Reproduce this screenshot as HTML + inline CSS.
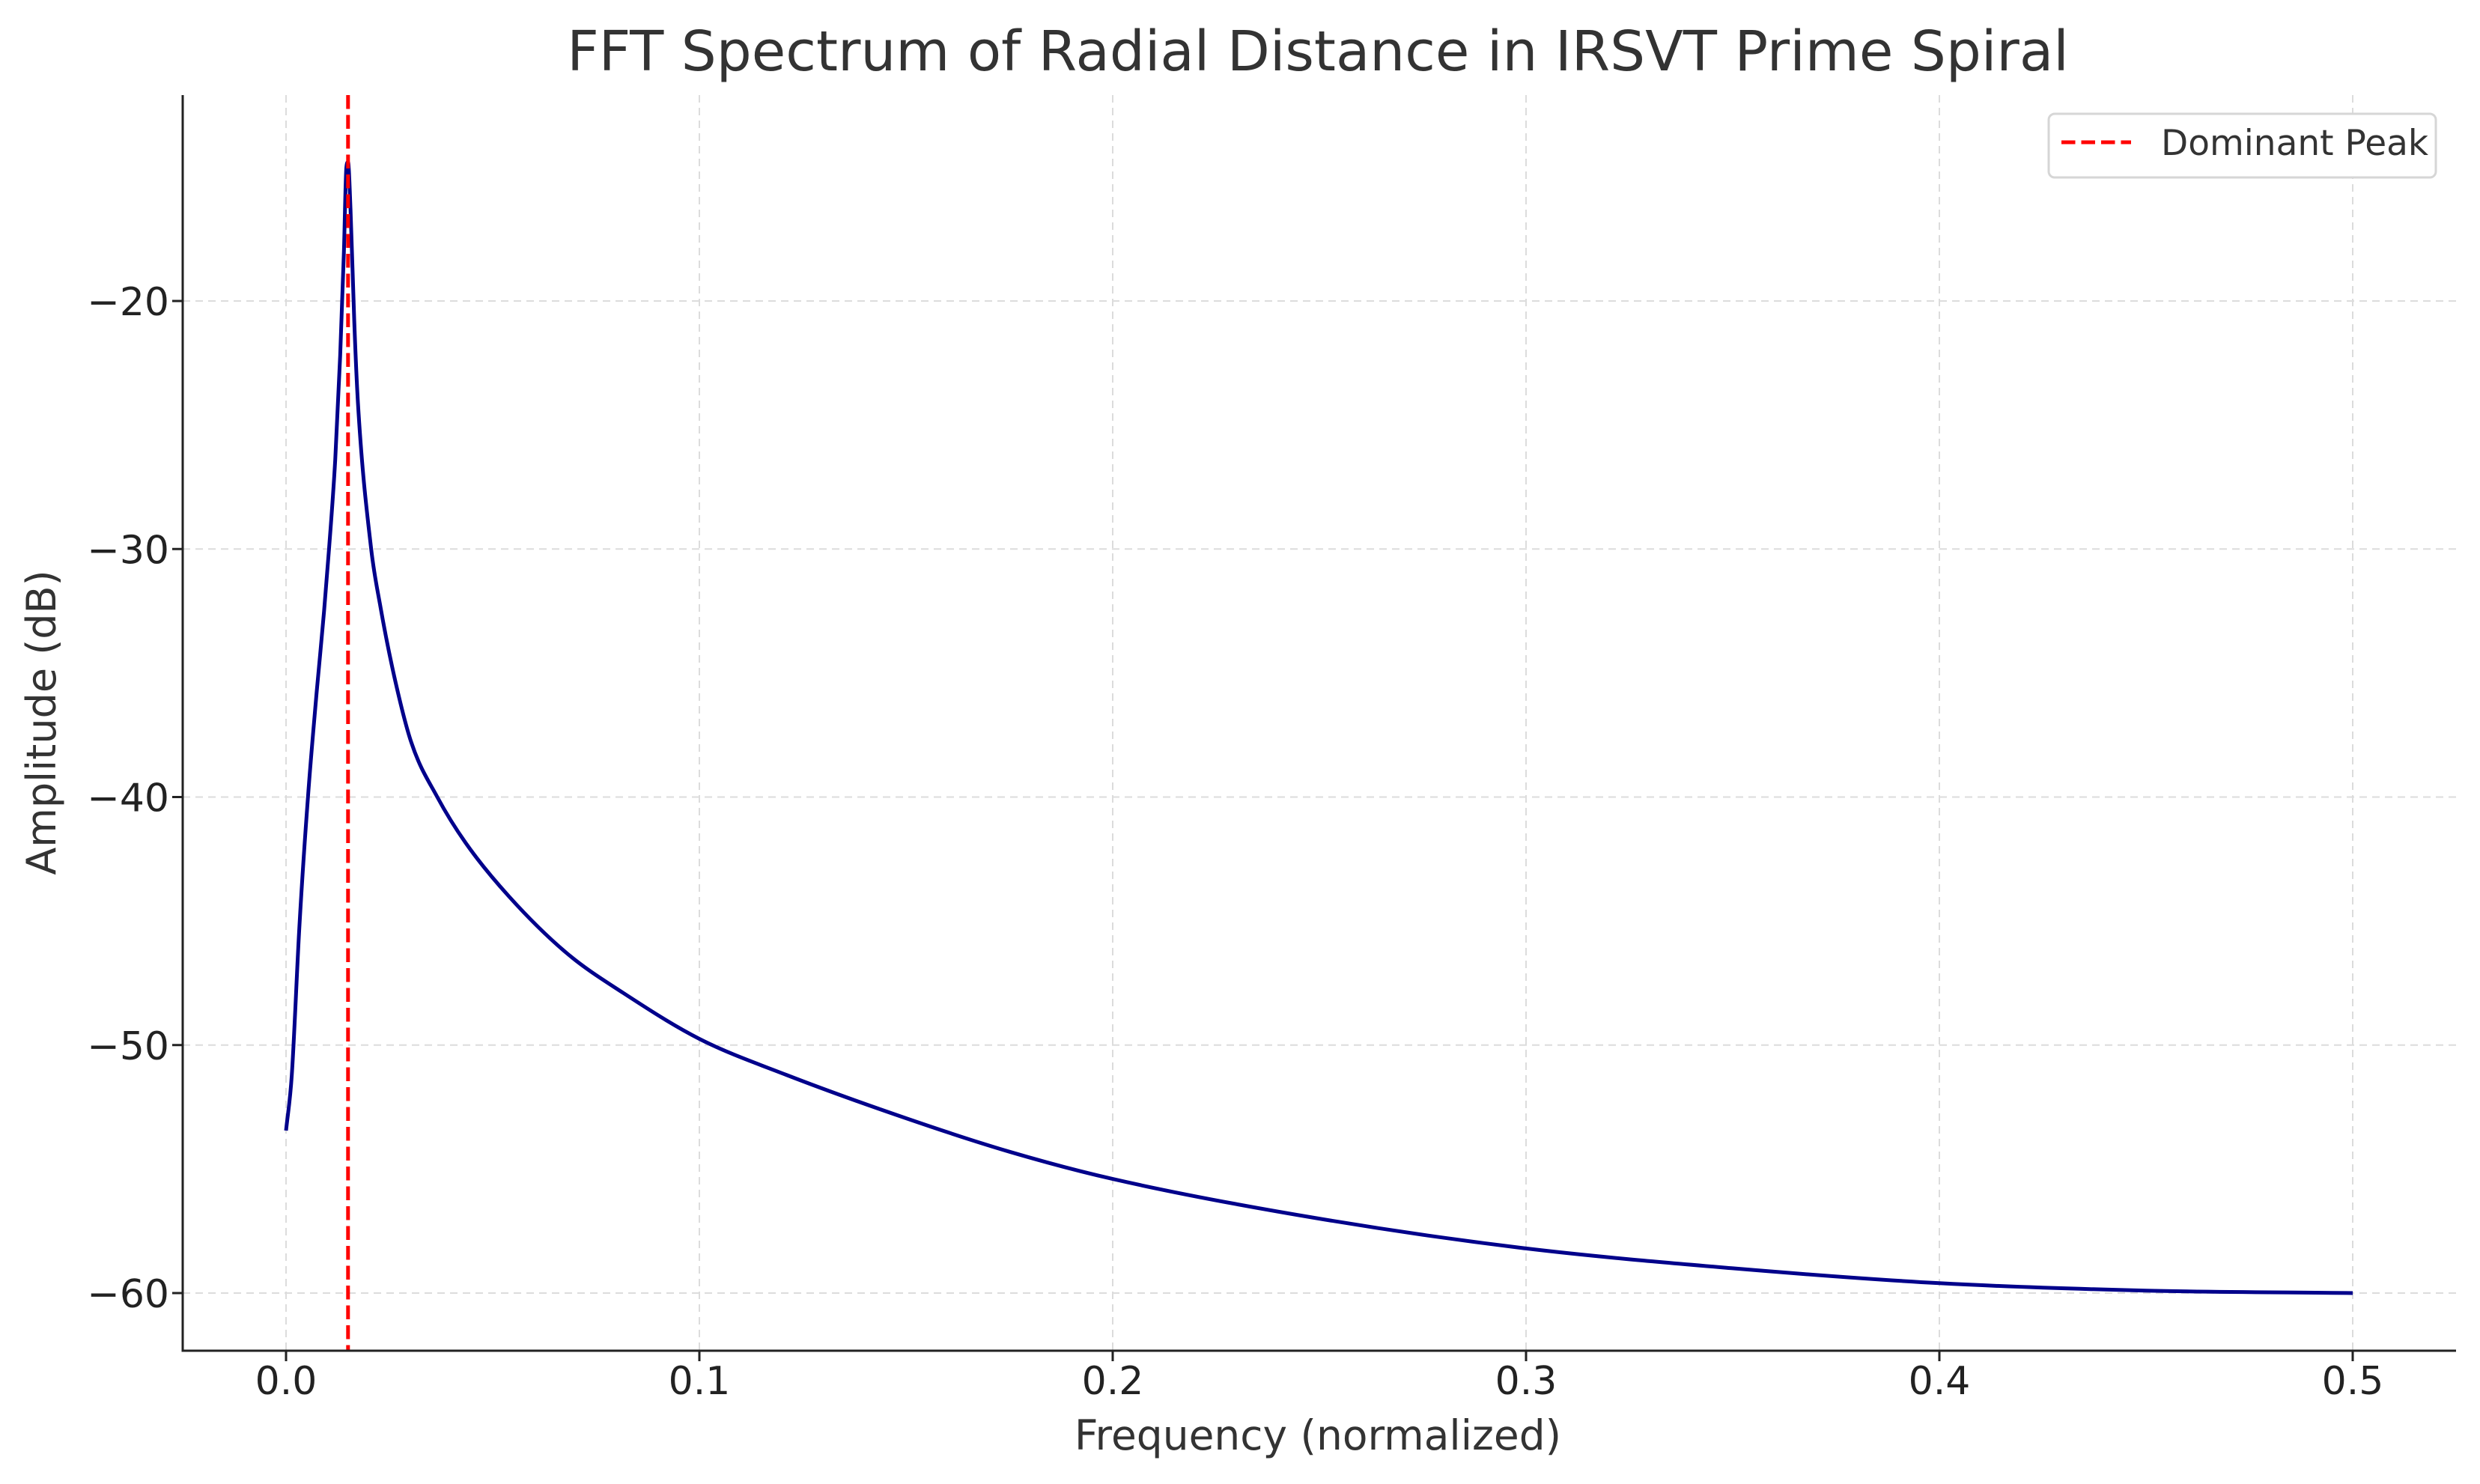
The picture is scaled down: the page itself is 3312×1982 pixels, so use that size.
<!DOCTYPE html>
<html><head><meta charset="utf-8"><style>
html,body{margin:0;padding:0;background:#fff;}
svg{display:block;font-family:"DejaVu Sans","Liberation Sans",sans-serif;}
</style></head><body>
<svg id="chart" width="3312" height="1982" viewBox="0 0 3312 1982" xmlns="http://www.w3.org/2000/svg">
<rect width="3312" height="1982" fill="#fff"/>
<g id="grid"></g>
<g id="marks"></g>
<g id="axes"></g>
<text x="1760" y="94" font-size="74" fill="#333" text-anchor="middle">FFT Spectrum of Radial Distance in IRSVT Prime Spiral</text>
<text x="1760" y="1936" font-size="55" fill="#333" text-anchor="middle">Frequency (normalized)</text>
<text x="0" y="0" font-size="54" fill="#333" text-anchor="middle" transform="translate(74,965) rotate(-90)">Amplitude (dB)</text>
<g>
<rect x="2736" y="152" width="517" height="85" rx="8" fill="#fff" stroke="#d6d6d6" stroke-width="3"/>
<line x1="2753" y1="190" x2="2846" y2="190" stroke="#ff0000" stroke-width="5" stroke-dasharray="18.5,8"/>
<text x="2886" y="207" font-size="47" fill="#333">Dominant Peak</text>
</g>
</svg>
<script>
const freqs = [0,0.0014,0.0032,0.0053,0.0074,0.0092,0.0104,0.0119,0.0131,0.014,0.0146,0.015,0.0156,0.0165,0.0174,0.0206,0.0227,0.0262,0.0303,0.0366,0.0435,0.0539,0.0678,0.0816,0.1,0.121,0.15,0.175,0.2,0.25,0.3,0.35,0.4,0.45,0.5];
const amps = [-53.45,-51.2,-45.3,-40.0,-35.8,-32.5,-30.0,-26.4,-22.2,-18.0,-14.6,-14.4,-16.3,-20.8,-24.1,-30.0,-32.2,-35.15,-37.8,-40.0,-41.86,-44.0,-46.28,-47.9,-49.75,-51.2,-52.95,-54.3,-55.4,-57.0,-58.2,-59.0,-59.6,-59.9,-60.0];
const peakFreq = [0.015];
const xTicks = [0,0.1,0.2,0.3,0.4,0.5];
const xTickLabels = ["0.0","0.1","0.2","0.3","0.4","0.5"];
const yTicks = [-20,-30,-40,-50,-60];
const yTickLabels = ["\u221220","\u221230","\u221240","\u221250","\u221260"];

const L=244,R=3280,T=127,B=1804;
const yAt=-20,yPx=402,pxPerDb=33.125;
function X(v){return 382+v*5520;}
function Y(v){return yPx-(v-yAt)*pxPerDb;}
const NS="http://www.w3.org/2000/svg";
function mk(tag,attrs,parent){const e=document.createElementNS(NS,tag);for(const k in attrs)e.setAttribute(k,attrs[k]);parent.appendChild(e);return e;}
const grid=document.getElementById('grid'),marks=document.getElementById('marks'),axes=document.getElementById('axes');

xTicks.forEach((t,i)=>{
  const g=mk('line',{x1:X(t),x2:X(t),y1:T,y2:B,stroke:'#dcdcdc','stroke-width':2,'stroke-dasharray':'10,7'},grid);
  
  
  const tk=mk('line',{x1:X(t),x2:X(t),y1:B,y2:B+14,stroke:'#222','stroke-width':3},axes);
  
  
  const tx=mk('text',{x:X(t),y:1862,'font-size':52,fill:'#222','text-anchor':'middle'},axes);
  tx.textContent=xTickLabels[i];
  
  
});
yTicks.forEach((t,i)=>{
  const g=mk('line',{x1:L,x2:R,y1:Y(t),y2:Y(t),stroke:'#dcdcdc','stroke-width':2,'stroke-dasharray':'10,7'},grid);
  
  
  const tk=mk('line',{x1:L-14,x2:L,y1:Y(t),y2:Y(t),stroke:'#222','stroke-width':3},axes);
  
  
  const tx=mk('text',{x:226,y:Y(t)+19,'font-size':52,fill:'#222','text-anchor':'end'},axes);
  tx.textContent=yTickLabels[i];
  
  
});

// monotone cubic (Fritsch-Carlson) path through data points
const px=freqs.map(X), py=amps.map(Y), n=px.length;
const dl=[],m=[];
for(let i=0;i<n-1;i++)dl.push((py[i+1]-py[i])/(px[i+1]-px[i]));
m[0]=dl[0];m[n-1]=dl[n-2];
for(let i=1;i<n-1;i++){m[i]=(dl[i-1]*dl[i]<=0)?0:(dl[i-1]+dl[i])/2;}
for(let i=0;i<n-1;i++){
  if(dl[i]===0){m[i]=0;m[i+1]=0;continue;}
  const a=m[i]/dl[i],b=m[i+1]/dl[i],s=a*a+b*b;
  if(s>9){const t=3/Math.sqrt(s);m[i]=t*a*dl[i];m[i+1]=t*b*dl[i];}
}
let d='M'+px[0].toFixed(1)+','+py[0].toFixed(1);
for(let i=0;i<n-1;i++){
  const h=(px[i+1]-px[i])/3;
  d+='C'+(px[i]+h).toFixed(1)+','+(py[i]+m[i]*h).toFixed(1)+' '+(px[i+1]-h).toFixed(1)+','+(py[i+1]-m[i+1]*h).toFixed(1)+' '+px[i+1].toFixed(1)+','+py[i+1].toFixed(1);
}
const line=mk('path',{d:d,fill:'none',stroke:'#00008b','stroke-width':5,'stroke-linejoin':'round','stroke-linecap':'butt'},marks);



const pk=mk('line',{x1:X(peakFreq[0]),x2:X(peakFreq[0]),y1:T,y2:B,stroke:'#ff0000','stroke-width':5,'stroke-dasharray':'18.5,8'},marks);



const sl=mk('line',{x1:L,x2:L,y1:T,y2:B+1.5,stroke:'#222','stroke-width':3},axes);


const sb=mk('line',{x1:L-1.5,x2:R,y1:B,y2:B,stroke:'#222','stroke-width':3},axes);


</script>
</body></html>
